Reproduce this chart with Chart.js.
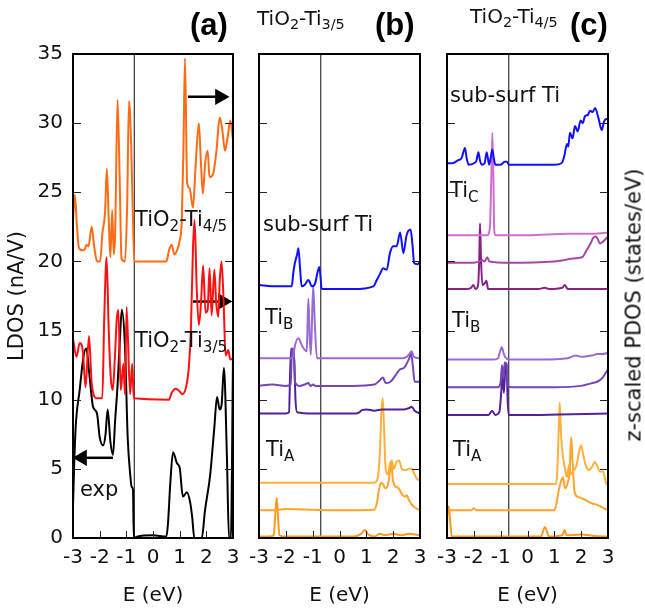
<!DOCTYPE html>
<html>
<head>
<meta charset="utf-8">
<script src="https://cdn.jsdelivr.net/npm/chart.js@4.4.1/dist/chart.umd.min.js"></script>
<style>
  body { margin: 0; background: #fff; }
  #wrap { position: relative; width: 645px; height: 608px; overflow: hidden; font-family: "DejaVu Sans", sans-serif; color: #111; }
  canvas { position: absolute; left: 0; top: 0; }
  .lbl { position: absolute; font-size: 21px; line-height: 1; white-space: nowrap; }
  .lbl sub { font-size: 0.72em; vertical-align: -0.3em; line-height: 0; }
  .top { font-size: 20px; }
  .tag { position: absolute; font-family: "Liberation Sans", Arial, sans-serif; font-weight: bold; font-size: 31px; line-height: 1; color: #000; }
  #zlabel { position: absolute; left: 634px; top: 305px; font-size: 21px; line-height: 1; white-space: nowrap; transform: translate(-50%, -50%) rotate(-90deg); }
</style>
</head>
<body>
<div id="wrap">
  <canvas id="pa" width="645" height="608"></canvas>
  <canvas id="pb" width="645" height="608"></canvas>
  <canvas id="pc" width="645" height="608"></canvas>

  <div class="tag" style="left:190px; top:9px;">(a)</div>
  <div class="tag" style="left:375px; top:9px;">(b)</div>
  <div class="tag" style="left:570px; top:9px;">(c)</div>
  <div class="lbl top" style="left:257px; top:8px;">TiO<sub>2</sub>-Ti<sub>3/5</sub></div>
  <div class="lbl top" style="left:470px; top:6px;">TiO<sub>2</sub>-Ti<sub>4/5</sub></div>

  <div class="lbl" style="left:135px; top:209px;">TiO<sub>2</sub>-Ti<sub>4/5</sub></div>
  <div class="lbl" style="left:135px; top:330px;">TiO<sub>2</sub>-Ti<sub>3/5</sub></div>
  <div class="lbl" style="left:80px; top:479px;">exp</div>

  <div class="lbl" style="left:263px; top:214px;">sub-surf Ti</div>
  <div class="lbl" style="left:265px; top:307px;">Ti<sub>B</sub></div>
  <div class="lbl" style="left:266px; top:439px;">Ti<sub>A</sub></div>

  <div class="lbl" style="left:450px; top:85px;">sub-surf Ti</div>
  <div class="lbl" style="left:450px; top:180px;">Ti<sub>C</sub></div>
  <div class="lbl" style="left:452px; top:310px;">Ti<sub>B</sub></div>
  <div class="lbl" style="left:453px; top:439px;">Ti<sub>A</sub></div>

  <div id="zlabel">z-scaled PDOS (states/eV)</div>
</div>

<script>
// axes
const xTicks = [-3, -2, -1, 0, 1, 2, 3];
const yTicks = [0, 5, 10, 15, 20, 25, 30, 35];
const fermiLevel = -0.7;

// panel (a) : LDOS, [E, value]
const ldosTi45 = [[-3,23.0],[-2.93,24.8],[-2.85,22.5],[-2.78,21.0],[-2.65,20.8],[-2.55,20.9],[-2.5,21.2],[-2.42,21.1],[-2.3,22.5],[-2.2,21.0],[-2.1,20.0],[-1.98,20.0],[-1.9,22.0],[-1.8,23.5],[-1.73,26.7],[-1.66,23.0],[-1.6,20.3],[-1.53,23.7],[-1.47,20.5],[-1.42,22.0],[-1.33,31.7],[-1.25,26.0],[-1.18,20.2],[-1.05,20.0],[-0.97,24.0],[-0.9,31.6],[-0.82,28.5],[-0.75,23.0],[-0.7,20.0],[0.5,20.0],[0.6,20.8],[0.7,21.2],[0.8,20.5],[0.9,20.8],[1.0,21.5],[1.08,23.0],[1.14,28.0],[1.2,34.7],[1.28,25.7],[1.37,25.3],[1.5,23.9],[1.6,27.0],[1.72,30.0],[1.8,27.0],[1.87,24.9],[1.95,27.0],[2.05,28.0],[2.12,26.1],[2.25,26.3],[2.38,28.0],[2.5,30.4],[2.6,29.5],[2.7,28.0],[2.8,29.0],[2.9,30.2],[3.0,28.8]];
const ldosTi35 = [[-3,14.4],[-2.87,13.1],[-2.75,14.1],[-2.63,13.5],[-2.53,10.9],[-2.4,14.6],[-2.3,11.2],[-2.11,10.1],[-1.9,10.1],[-1.83,15.8],[-1.74,20.3],[-1.66,15.0],[-1.58,11.5],[-1.51,10.7],[-1.43,13.0],[-1.36,15.8],[-1.3,16.5],[-1.21,10.7],[-1.11,12.6],[-1.05,10.4],[-0.99,16.7],[-0.86,10.4],[-0.78,12.6],[-0.72,10.1],[0.6,10.0],[0.7,10.5],[0.85,10.8],[1.0,10.6],[1.1,10.4],[1.25,11.0],[1.35,12.5],[1.42,15.0],[1.5,21.0],[1.56,23.0],[1.64,18.0],[1.72,15.4],[1.8,17.0],[1.88,19.7],[1.97,16.3],[2.05,16.5],[2.12,19.5],[2.2,16.1],[2.3,19.4],[2.37,17.0],[2.45,16.0],[2.5,18.5],[2.57,20.0],[2.65,17.0],[2.72,13.2],[2.82,13.6],[2.9,12.9],[3.0,13.0]];
const ldosExp = [[-3,2.3],[-2.96,5.0],[-2.9,8.0],[-2.75,10.7],[-2.6,13.2],[-2.5,13.7],[-2.38,11.7],[-2.25,9.5],[-2.1,9.0],[-2.0,7.3],[-1.87,6.7],[-1.78,7.5],[-1.7,9.3],[-1.6,7.0],[-1.5,6.0],[-1.42,8.5],[-1.33,11.0],[-1.25,14.0],[-1.17,16.5],[-1.05,13.8],[-0.95,7.3],[-0.85,4.5],[-0.8,3.7],[-0.75,3.5],[-0.72,0],[-0.6,0.1],[0,0.2],[0.5,0.1],[0.56,1.0],[0.65,4.0],[0.75,6.2],[0.9,5.4],[1.0,5.1],[1.12,3.0],[1.27,3.3],[1.4,2.5],[1.47,1.5],[1.55,0],[1.83,0],[1.95,2.0],[2.14,4.5],[2.3,8.0],[2.4,10.2],[2.5,9.3],[2.57,9.6],[2.66,12.3],[2.77,6.0],[2.85,0],[2.92,0],[3.0,13.0]];
// arrows: [tail E, head E, level]
const arrowTi45 = [1.31, 2.51, 31.9];
const arrowTi35 = [1.5, 2.62, 17.1];
const arrowExp = [-1.5, -2.66, 5.8];

// panel (b) : TiO2-Ti3/5 PDOS
const subSurfB = [[-3,18.3],[-2.5,18.2],[-2.0,18.2],[-1.78,18.2],[-1.72,19.2],[-1.66,19.9],[-1.58,20.5],[-1.53,20.95],[-1.47,19.5],[-1.41,18.2],[-1.3,18.3],[-1.16,18.65],[-1.03,18.2],[-0.91,18.4],[-0.82,19.2],[-0.75,19.6],[-0.66,18.0],[0.5,18.0],[1.26,18.2],[1.4,18.7],[1.51,19.1],[1.63,19.5],[1.76,19.4],[1.88,20.6],[2.0,21.1],[2.13,21.1],[2.26,22.1],[2.38,20.6],[2.5,21.9],[2.65,22.3],[2.72,21.2],[2.78,19.9],[2.9,19.8],[3.0,19.95]];
const tiB1b = [[-3,13.0],[-1.75,13.0],[-1.65,14.0],[-1.53,14.45],[-1.41,13.95],[-1.22,13.5],[-1.19,15.5],[-1.16,17.3],[-1.12,15.0],[-1.07,13.25],[-1.02,16.0],[-0.98,18.2],[-0.92,15.5],[-0.84,13.0],[2.3,13.0],[2.5,13.1],[2.6,13.3],[2.69,13.5],[2.77,13.1],[3.0,13.0]];
const tiB2b = [[-3,11.0],[-2.5,11.1],[-2.0,11.0],[-1.82,11.1],[-1.78,13.3],[-1.74,13.7],[-1.7,13.3],[-1.66,11.3],[-1.5,11.0],[-1.3,11.1],[-1.16,11.2],[-1.08,11.0],[-0.98,11.1],[-0.9,11.0],[0.5,11.0],[1.3,11.1],[1.5,11.4],[1.62,11.6],[1.72,11.2],[1.9,11.3],[2.1,11.8],[2.26,12.2],[2.4,12.3],[2.5,12.6],[2.6,13.0],[2.66,13.4],[2.73,12.5],[2.8,11.3],[3.0,11.3]];
const tiB3b = [[-3,9.0],[-2.0,9.0],[-1.88,9.1],[-1.84,12.0],[-1.8,13.7],[-1.76,13.1],[-1.7,13.5],[-1.64,10.0],[-1.58,9.1],[-1.0,9.0],[0.6,9.0],[0.75,9.1],[0.83,9.25],[1.01,9.3],[1.3,9.2],[1.6,9.3],[2.0,9.3],[2.4,9.3],[2.6,9.4],[2.69,9.5],[2.8,9.2],[3.0,9.0]];
const tiA1b = [[-3,4.0],[1.3,4.0],[1.42,4.3],[1.5,6.0],[1.56,9.0],[1.61,10.1],[1.66,8.0],[1.72,5.0],[1.8,4.6],[1.87,5.3],[1.95,5.6],[2.03,5.0],[2.12,5.5],[2.22,5.6],[2.32,5.0],[2.45,4.9],[2.58,5.0],[2.69,5.0],[2.8,4.6],[2.93,4.2],[3.0,4.3]];
const tiA2b = [[-3,2.0],[-2.5,2.0],[-2.0,2.1],[0,2.0],[1.3,2.05],[1.4,2.6],[1.48,3.6],[1.55,4.0],[1.62,3.9],[1.7,3.6],[1.78,3.7],[1.86,4.5],[1.93,5.4],[1.99,4.2],[2.05,3.8],[2.2,3.6],[2.35,3.1],[2.45,3.0],[2.5,3.1],[2.6,2.7],[2.75,2.3],[3.0,2.0]];
const tiA3b = [[-3,0.1],[-2.6,0.1],[-2.45,0.2],[-2.4,1.5],[-2.34,2.9],[-2.29,1.5],[-2.24,0.2],[-2.0,0.1],[0.5,0.1],[0.8,0.3],[0.95,0.6],[1.05,0.3],[1.3,0.1],[1.5,0.3],[1.7,0.2],[2.0,0.3],[2.3,0.2],[2.6,0.3],[3.0,0.2]];

// panel (c) : TiO2-Ti4/5 PDOS
const subSurfC = [[-3,27.1],[-2.8,27.1],[-2.6,27.3],[-2.45,27.5],[-2.33,28.2],[-2.27,27.5],[-2.2,27.0],[-2.0,27.1],[-1.9,27.3],[-1.83,27.9],[-1.77,27.3],[-1.7,27.0],[-1.6,27.1],[-1.52,27.9],[-1.43,27.0],[-1.37,27.5],[-1.31,28.1],[-1.25,27.4],[-1.2,27.0],[-1.0,27.0],[-0.85,27.2],[-0.76,27.2],[-0.7,27.0],[0.5,27.0],[1.0,27.0],[1.27,27.1],[1.37,27.6],[1.47,28.5],[1.52,28.3],[1.58,29.3],[1.68,28.9],[1.77,29.8],[1.87,29.4],[1.98,30.2],[2.06,30.0],[2.14,30.5],[2.25,30.6],[2.33,30.9],[2.43,30.8],[2.52,31.1],[2.64,30.4],[2.77,29.5],[2.85,30.1],[2.93,30.3],[3.0,30.3]];
const tiC1c = [[-3,21.9],[-1.5,21.9],[-1.4,22.5],[-1.35,26.0],[-1.31,29.3],[-1.27,26.0],[-1.24,22.2],[-1.2,21.9],[0,21.9],[1.5,22.0],[2.5,22.0],[3.0,22.1]];
const tiC2c = [[-3,19.9],[-2.0,19.9],[-1.8,20.0],[-1.7,20.1],[-1.6,20.0],[-1.5,20.3],[-1.42,20.0],[-0.7,19.9],[1.0,20.0],[1.4,20.1],[1.6,20.2],[2.03,20.3],[2.2,20.8],[2.35,21.3],[2.45,21.7],[2.55,21.8],[2.62,21.6],[2.7,21.3],[2.8,21.4],[2.9,21.6],[3.0,21.8]];
const tiC3c = [[-3,18.0],[-2.3,18.0],[-2.1,18.1],[-2.02,18.3],[-1.94,18.0],[-1.85,18.2],[-1.8,20.0],[-1.77,22.75],[-1.73,20.0],[-1.68,18.3],[-1.6,18.4],[-1.53,18.6],[-1.47,18.0],[0.4,18.0],[0.65,18.1],[0.8,18.0],[1.3,18.1],[1.39,18.3],[1.5,18.0],[3.0,18.0]];
const tiB1c = [[-3,12.9],[-1.3,12.9],[-1.1,13.0],[-1.02,13.5],[-0.96,13.8],[-0.88,13.3],[-0.8,13.0],[-0.7,12.9],[0.5,12.9],[1.5,13.0],[1.8,13.2],[2.0,13.1],[2.4,13.2],[2.6,13.3],[2.8,13.3],[3.0,13.4]];
const tiB2c = [[-3,10.9],[-1.1,10.9],[-1.0,11.3],[-0.95,12.5],[-0.9,11.5],[-0.85,12.7],[-0.78,12.6],[-0.72,11.0],[-0.6,10.9],[1.0,10.9],[2.0,11.0],[2.4,11.2],[2.6,11.3],[2.8,11.6],[2.9,11.9],[3.0,12.2]];
const tiB3c = [[-3,8.9],[-1.45,8.9],[-1.32,9.2],[-1.2,8.9],[-1.05,9.1],[-0.98,10.5],[-0.93,11.9],[-0.88,10.5],[-0.83,12.2],[-0.78,12.6],[-0.74,10.0],[-0.7,8.9],[0.5,8.9],[3.0,9.0]];
const tiA1c = [[-3,3.9],[1.05,3.9],[1.1,4.5],[1.15,7.0],[1.2,9.8],[1.25,7.5],[1.32,5.9],[1.4,5.0],[1.47,4.4],[1.55,5.3],[1.62,4.6],[1.72,4.9],[1.82,5.2],[1.92,6.2],[2.0,6.7],[2.08,6.0],[2.18,5.2],[2.3,4.9],[2.42,5.2],[2.5,5.5],[2.6,5.2],[2.7,4.8],[2.82,4.8],[2.92,4.0],[3.0,3.8]];
const tiA2c = [[-3,2.0],[-2.1,2.0],[-2.0,2.15],[-1.9,2.0],[1.0,2.0],[1.08,2.5],[1.15,3.3],[1.25,4.1],[1.32,4.4],[1.4,3.6],[1.5,4.0],[1.57,4.8],[1.63,7.3],[1.68,5.5],[1.75,3.4],[1.85,3.0],[2.0,2.9],[2.2,2.7],[2.4,2.5],[2.6,2.4],[2.8,2.2],[3.0,2.0]];
const tiA3c = [[-3,0.8],[-2.97,2.3],[-2.93,2.2],[-2.88,1.2],[-2.82,0.1],[0.5,0.1],[0.58,0.5],[0.65,0.8],[0.72,0.5],[0.8,0.1],[1.3,0.2],[1.38,0.6],[1.45,0.2],[2.0,0.25],[2.5,0.15],[3.0,0.1]];

const FONT = "'DejaVu Sans', sans-serif";

function curve(points, color, width) {
  return {
    data: points.map(p => ({ x: p[0], y: p[1] })),
    borderColor: color,
    borderWidth: width || 2,
    pointRadius: 0,
    cubicInterpolationMode: 'monotone',
    fill: false
  };
}

function arrow(a) {
  return {
    data: [{ x: a[0], y: a[2] }, { x: a[1], y: a[2] }],
    borderColor: '#000',
    backgroundColor: '#000',
    borderWidth: 2.5,
    pointStyle: 'triangle',
    pointRadius: [0, 7],
    pointRotation: a[1] > a[0] ? 90 : -90,
    pointBackgroundColor: '#000',
    pointBorderColor: '#000'
  };
}

function fermiLine() {
  return {
    data: [{ x: fermiLevel, y: yTicks[0] }, { x: fermiLevel, y: yTicks[yTicks.length - 1] }],
    borderColor: '#444',
    borderWidth: 1.3,
    pointRadius: 0,
    order: 10
  };
}

// frame + inward ticks
const framePlugin = {
  id: 'frame',
  afterDatasetsDraw(chart) {
    const { ctx, chartArea: a, scales: { x, y } } = chart;
    ctx.save();
    ctx.strokeStyle = '#222';
    ctx.lineWidth = 1;
    yTicks.forEach(v => {
      const py = Math.round(y.getPixelForValue(v)) + 0.5;
      ctx.beginPath();
      ctx.moveTo(a.left, py); ctx.lineTo(a.left + 8, py);
      ctx.moveTo(a.right, py); ctx.lineTo(a.right - 8, py);
      ctx.stroke();
    });
    xTicks.forEach(v => {
      const px = Math.round(x.getPixelForValue(v)) + 0.5;
      ctx.beginPath();
      ctx.moveTo(px, a.bottom); ctx.lineTo(px, a.bottom - 7);
      ctx.stroke();
    });
    ctx.strokeStyle = '#000';
    ctx.lineWidth = 2;
    ctx.strokeRect(a.left, a.top, a.right - a.left, a.bottom - a.top);
    ctx.restore();
  }
};

function makePanel(id, padLeft, padRight, datasets, withY) {
  const yScale = {
    display: withY,
    min: yTicks[0],
    max: yTicks[yTicks.length - 1],
    afterBuildTicks: s => { s.ticks = yTicks.map(v => ({ value: v })); },
    ticks: { padding: 10, color: '#111', font: { family: FONT, size: 20 } },
    grid: { display: false, drawTicks: false },
    border: { display: false },
    title: { display: true, text: 'LDOS (nA/V)', color: '#111', font: { family: FONT, size: 21 }, padding: { top: 5, bottom: 0 } }
  };
  if (withY) yScale.afterFit = s => { s.width = 73; };

  return new Chart(document.getElementById(id), {
    type: 'line',
    data: { datasets: datasets },
    plugins: [framePlugin],
    options: {
      responsive: false,
      animation: false,
      layout: { padding: { left: padLeft, right: padRight, top: 54, bottom: 0 } },
      plugins: { legend: { display: false }, tooltip: { enabled: false } },
      scales: {
        x: {
          type: 'linear',
          min: xTicks[0],
          max: xTicks[xTicks.length - 1],
          afterBuildTicks: s => { s.ticks = xTicks.map(v => ({ value: v })); },
          ticks: { autoSkip: false, maxRotation: 0, padding: 8, color: '#111', font: { family: FONT, size: 20 } },
          grid: { display: false, drawTicks: false },
          border: { display: false },
          title: { display: true, text: 'E (eV)', color: '#111', font: { family: FONT, size: 20 }, padding: { top: 0, bottom: 0 } },
          afterFit: s => { s.height = 70; }
        },
        y: yScale
      }
    }
  });
}

const purple1 = '#9a6bd6', purple2 = '#7446b8', purple3 = '#54219a';
const amber1 = '#ffb13b', amber2 = '#ffa42c', amber3 = '#ff981c';

makePanel('pa', 0, 412, [
  curve(ldosTi45, '#ff6a14'),
  curve(ldosTi35, '#ff1010'),
  curve(ldosExp, '#000'),
  arrow(arrowTi45),
  arrow(arrowTi35),
  arrow(arrowExp),
  fermiLine()
], true);

makePanel('pb', 259, 225, [
  curve(subSurfB, '#1010ff'),
  curve(tiB1b, purple1),
  curve(tiB2b, purple2),
  curve(tiB3b, purple3),
  curve(tiA1b, amber1),
  curve(tiA2b, amber2),
  curve(tiA3b, amber3),
  fermiLine()
], false);

makePanel('pc', 447, 37, [
  curve(subSurfC, '#1010ff'),
  curve(tiC1c, '#cf6fd0'),
  curve(tiC2c, '#a846a8'),
  curve(tiC3c, '#8a1f8a'),
  curve(tiB1c, purple1),
  curve(tiB2c, purple2),
  curve(tiB3c, purple3),
  curve(tiA1c, amber1),
  curve(tiA2c, amber2),
  curve(tiA3c, amber3),
  fermiLine()
], false);
</script>
</body>
</html>
